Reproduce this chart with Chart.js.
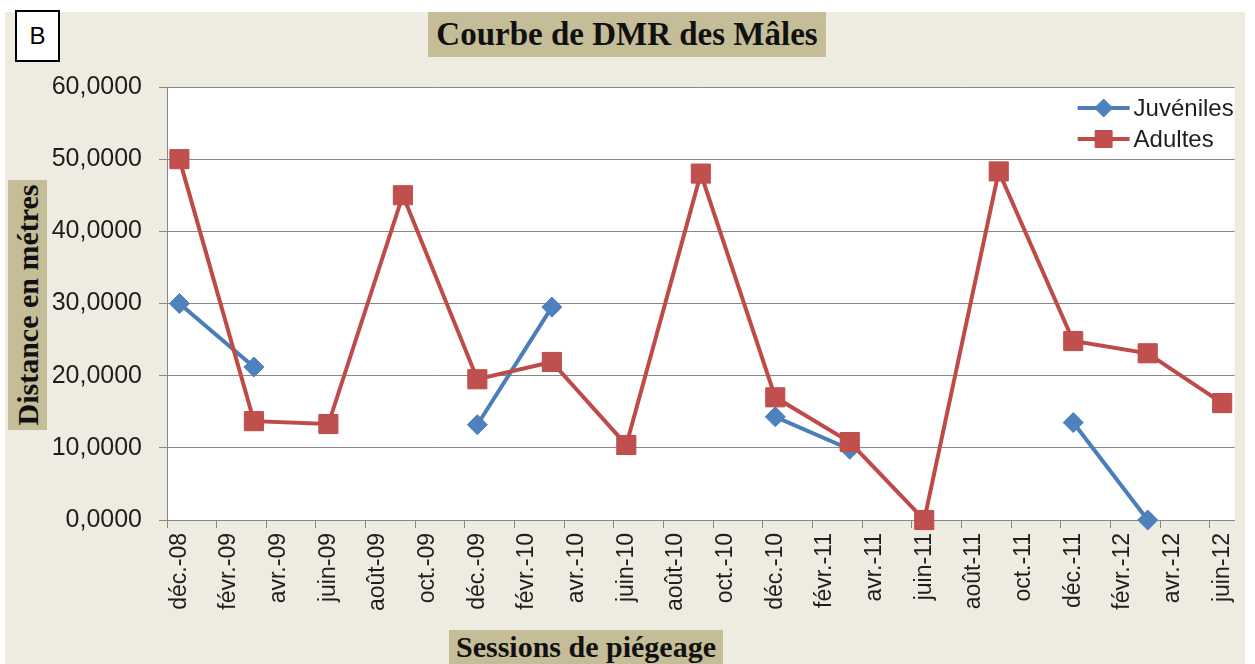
<!DOCTYPE html>
<html lang="fr">
<head>
<meta charset="utf-8">
<title>Courbe de DMR des Mâles</title>
<script src="https://cdn.jsdelivr.net/npm/chart.js@4.4.1/dist/chart.umd.min.js"></script>
<style>
  html, body { margin: 0; padding: 0; background: #fff; }
  body { width: 1255px; height: 664px; position: relative; overflow: hidden; }
  #frame { position: absolute; left: 5px; top: 12px; width: 1240px; height: 652px; background: #EEECE1; }
  #chart-wrap { position: absolute; left: 0; top: 0; width: 1255px; height: 664px; }
  .tag { position: absolute; background: #C4BD97; color: #111;
         font-family: 'Liberation Serif', 'DejaVu Serif', serif; font-weight: bold;
         display: flex; align-items: center; justify-content: center; white-space: nowrap; }
  #title { left: 428px; top: 12px; width: 398px; height: 45px; font-size: 33px; }
  #x-title { left: 449px; top: 630px; width: 274px; height: 34px; font-size: 30px; }
  #y-title { left: 8px; top: 180px; width: 39px; height: 250px; }
  #y-title span { display: block; transform: rotate(-90deg); font-size: 30px; }
  #panel { position: absolute; left: 15px; top: 10px; width: 41px; height: 48px; background: #fff;
           border: 2px solid #000; font: 24px 'Liberation Sans', sans-serif;
           display: flex; align-items: center; justify-content: center; }
</style>
</head>
<body>
<div id="frame"></div>
<div id="chart-wrap"><canvas id="chart" width="1255" height="664"></canvas></div>
<div id="panel">B</div>
<div id="title" class="tag">Courbe de DMR des Mâles</div>
<div id="y-title" class="tag"><span>Distance en métres</span></div>
<div id="x-title" class="tag">Sessions de piégeage</div>
<script>
// monthly date axis, déc.-08 .. juin-12
const MONTHS = [
  'déc.-08',
  'janv.-09', 'févr.-09', 'mars-09', 'avr.-09', 'mai-09', 'juin-09',
  'juil.-09', 'août-09', 'sept.-09', 'oct.-09', 'nov.-09', 'déc.-09',
  'janv.-10', 'févr.-10', 'mars-10', 'avr.-10', 'mai-10', 'juin-10',
  'juil.-10', 'août-10', 'sept.-10', 'oct.-10', 'nov.-10', 'déc.-10',
  'janv.-11', 'févr.-11', 'mars-11', 'avr.-11', 'mai-11', 'juin-11',
  'juil.-11', 'août-11', 'sept.-11', 'oct.-11', 'nov.-11', 'déc.-11',
  'janv.-12', 'févr.-12', 'mars-12', 'avr.-12', 'mai-12', 'juin-12'
];

// trapping sessions (one every 3 months)
const SESSIONS = [
  'déc.-08', 'mars-09', 'juin-09', 'sept.-09', 'déc.-09', 'mars-10', 'juin-10', 'sept.-10',
  'déc.-10', 'mars-11', 'juin-11', 'sept.-11', 'déc.-11', 'mars-12', 'juin-12'
];

const JUVENILES = [30.0, 21.2, null, null, 13.2, 29.5, null, null, 14.3, 9.8, null, null, 13.5, 0.0, null];
const ADULTES = [50.0, 13.7, 13.3, 45.0, 19.5, 21.9, 10.4, 48.0, 17.0, 10.8, 0.0, 48.3, 24.8, 23.1, 16.2];

const Y_MIN = 0;
const Y_MAX = 60;
const Y_STEP = 10;

const BLUE = '#4A7EBB';
const BLUE_FILL = '#4F81BD';
const RED = '#BE4B48';
const RED_FILL = '#C0504D';
const GRID = '#878787';
const TEXT = '#1e1e1e';

const toPoints = vals => SESSIONS.map((s, i) => ({ x: s, y: vals[i] }));

const series = [
  { label: 'Juvéniles', values: JUVENILES, line: BLUE, fill: BLUE_FILL, style: 'rectRot', radius: 10, order: 1 },
  { label: 'Adultes', values: ADULTES, line: RED, fill: RED_FILL, style: 'rect', radius: 13.5, order: 0 }
];

// white plot area on the beige chart background
const plotBackground = {
  id: 'plotBackground',
  beforeDraw(chart) {
    const { ctx, chartArea: a } = chart;
    ctx.save();
    ctx.fillStyle = '#fff';
    ctx.fillRect(a.left, a.top, a.right - a.left, a.bottom - a.top);
    ctx.restore();
  }
};

function marker(ctx, style, radius, x, y) {
  if (Chart.helpers && Chart.helpers.drawPoint) {
    Chart.helpers.drawPoint(ctx, { pointStyle: style, radius, borderWidth: 1, rotation: 0 }, x, y);
    return;
  }
  ctx.beginPath();
  if (style === 'rectRot') {
    ctx.moveTo(x - radius, y); ctx.lineTo(x, y - radius);
    ctx.lineTo(x + radius, y); ctx.lineTo(x, y + radius);
  } else {
    const s = radius * Math.SQRT1_2;
    ctx.rect(x - s, y - s, 2 * s, 2 * s);
  }
  ctx.closePath();
  ctx.fill();
  ctx.stroke();
}

// Excel-like legend inside the plot, top right
const insideLegend = {
  id: 'insideLegend',
  afterDraw(chart) {
    const { ctx, chartArea: a } = chart;
    ctx.save();
    ctx.font = "24px 'Liberation Sans', sans-serif";
    ctx.textBaseline = 'middle';
    series.forEach((s, i) => {
      const y = a.top + 21 + i * 31;
      const x0 = a.right - 157, x1 = a.right - 105;
      ctx.strokeStyle = s.line;
      ctx.lineWidth = 4;
      ctx.beginPath();
      ctx.moveTo(x0, y);
      ctx.lineTo(x1, y);
      ctx.stroke();
      ctx.fillStyle = s.fill;
      ctx.lineWidth = 1;
      marker(ctx, s.style, s.style === 'rect' ? 12 : 9, (x0 + x1) / 2, y);
      ctx.fillStyle = TEXT;
      ctx.fillText(s.label, a.right - 101, y + 1);
    });
    ctx.restore();
  }
};

const tickMark = ctx => (ctx.index !== undefined && ctx.index % 2 === 0 ? GRID : 'rgba(0,0,0,0)');

new Chart(document.getElementById('chart'), {
  type: 'line',
  data: {
    labels: MONTHS,
    datasets: series.map(s => ({
      label: s.label,
      data: toPoints(s.values),
      order: s.order,
      clip: false,
      borderColor: s.line,
      borderWidth: 4,
      backgroundColor: s.fill,
      pointStyle: s.style,
      pointRadius: s.radius,
      pointHoverRadius: s.radius,
      pointBackgroundColor: s.fill,
      pointBorderColor: s.line,
      pointBorderWidth: 1,
      spanGaps: false,
      tension: 0
    }))
  },
  options: {
    responsive: false,
    animation: false,
    layout: { padding: { left: 0, top: 87, right: 18, bottom: 0 } },
    plugins: {
      legend: { display: false },
      title: { display: false },
      tooltip: { enabled: false }
    },
    scales: {
      x: {
        type: 'category',
        offset: true,
        afterFit(scale) { scale.height = 144; },
        border: { display: true, color: GRID, width: 1 },
        grid: {
          offset: true,
          drawOnChartArea: false,
          drawTicks: true,
          tickLength: 8,
          color: tickMark,
          tickColor: tickMark
        },
        ticks: {
          autoSkip: false,
          minRotation: 90,
          maxRotation: 90,
          padding: 5,
          color: TEXT,
          font: { family: "'Liberation Sans', sans-serif", size: 23 },
          callback(value, index) { return index % 2 === 0 ? this.getLabelForValue(value) : ''; }
        }
      },
      y: {
        min: Y_MIN,
        max: Y_MAX,
        afterFit(scale) { scale.width = 167; },
        border: { display: true, color: GRID, width: 1 },
        grid: { color: GRID, lineWidth: 1, tickLength: 8, drawTicks: true },
        ticks: {
          stepSize: Y_STEP,
          padding: 17,
          color: TEXT,
          font: { family: "'Liberation Sans', sans-serif", size: 25 },
          callback: v => v.toFixed(4).replace('.', ',')
        }
      }
    }
  },
  plugins: [plotBackground, insideLegend]
});
</script>
</body>
</html>
